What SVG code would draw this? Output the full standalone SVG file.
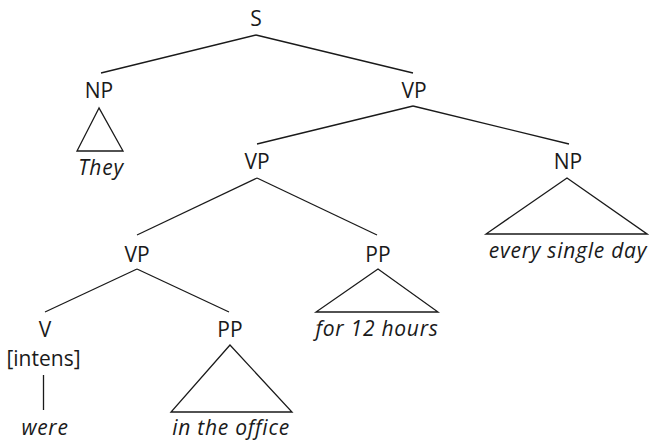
<svg xmlns="http://www.w3.org/2000/svg" width="649" height="440" viewBox="0 0 649 440">
<style>
text{font-family:"Open Sans","Noto Sans",sans-serif;font-size:21px;fill:#1a1a1a;text-anchor:middle}
.i{font-style:italic;letter-spacing:0.75px}
line,polygon{stroke:#1a1a1a;stroke-width:1.3;fill:none}
</style>
<rect width="649" height="440" fill="#fff"/>
<g id="connectors">
<line x1="256" y1="35" x2="101" y2="73"/>
<line x1="256" y1="35" x2="413" y2="73"/>
<polygon points="99,108 77,151 123,151"/>
<line x1="413" y1="106" x2="257" y2="144"/>
<line x1="413" y1="106" x2="569" y2="144"/>
<line x1="257" y1="178" x2="137" y2="235"/>
<line x1="257" y1="178" x2="377" y2="235"/>
<polygon points="567,178 486,234 647,234"/>
<line x1="137" y1="269" x2="45" y2="312"/>
<line x1="137" y1="269" x2="229" y2="312"/>
<polygon points="378,269 316,312 438,312"/>
<line x1="43.5" y1="375" x2="43.5" y2="410"/>
<polygon points="230,345 171,412 292,412"/>
</g>
<g id="S"><text x="256" y="26">S</text></g>
<g id="NP1"><text x="99" y="98">NP</text></g>
<g id="They"><text class="i" x="101" y="175">They</text></g>
<g id="VP1"><text x="414" y="98">VP</text></g>
<g id="VP2"><text x="257" y="169">VP</text></g>
<g id="NP2"><text x="568" y="169">NP</text></g>
<g id="every"><text class="i" x="568" y="258">every single day</text></g>
<g id="VP3"><text x="137" y="262">VP</text></g>
<g id="PP1"><text x="378" y="262">PP</text></g>
<g id="for"><text class="i" x="377" y="336">for 12 hours</text></g>
<g id="V"><text x="45" y="337">V</text></g>
<g id="intens"><text x="43.5" y="366">[intens]</text></g>
<g id="were"><text class="i" x="45" y="435">were</text></g>
<g id="PP2"><text x="230" y="337">PP</text></g>
<g id="office"><text class="i" x="231" y="435">in the office</text></g>
</svg>
